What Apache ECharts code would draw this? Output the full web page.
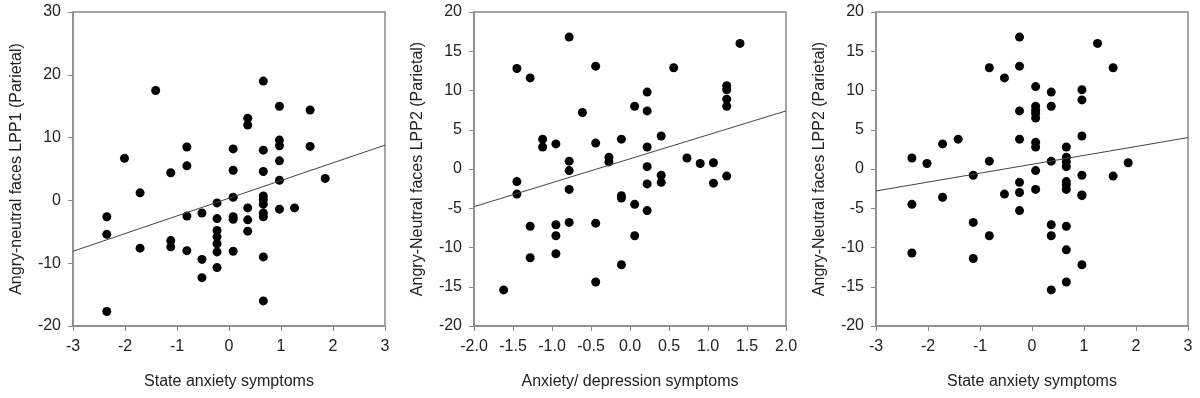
<!DOCTYPE html>
<html>
<head>
<meta charset="utf-8">
<script src="https://cdn.jsdelivr.net/npm/echarts@6/dist/echarts.min.js"></script>
<style>
  html, body { margin: 0; padding: 0; background: #fff; }
  #chart { width: 1200px; height: 398px; }
</style>
</head>
<body>
<div id="chart"></div>
<script>
// panel 1: state anxiety vs LPP1
var stateAnxX1 = [-2.01, -1.71, -1.41, -1.12, -0.81, -0.81, 0.08, 0.08, 0.08, 0.36, 0.36, 0.66, 0.66, 0.66, 0.66,
  0.97, 0.97, 0.97, 0.97, 0.97, 1.56, 1.56, 1.85, -0.23,
  -2.35, -2.35, -1.71, -2.35, -1.12, -1.12, -0.81, -0.81, -0.52, -0.52, -0.52,
  -0.23, -0.23, -0.23, -0.23, -0.23, -0.23, 0.08, 0.08, 0.08, 0.36, 0.36, 0.36,
  0.66, 0.66, 0.66, 0.66, 0.66, 0.66, 0.97, 1.26];
var lpp1Y = [6.7, 1.2, 17.5, 4.4, 8.5, 5.5, 8.2, 4.8, 0.5, 13.1, 12.0, 19.0, 8.0, 4.6, 0.7,
  15.0, 9.6, 8.7, 6.3, 3.2, 14.4, 8.6, 3.5, -0.4,
  -2.6, -5.4, -7.6, -17.7, -6.4, -7.4, -2.5, -8.0, -2.0, -9.4, -12.3,
  -2.9, -4.8, -5.8, -6.9, -8.2, -10.7, -2.6, -3.0, -8.1, -1.2, -3.1, -4.9,
  0.1, -0.6, -2.0, -2.6, -9.0, -16.0, -1.4, -1.2];
var fit1X = [-3, 3];
var fit1Y = [-8.1, 8.8];

// panel 2: anxiety/depression vs LPP2
var anxDepX = [-1.45, -1.28, -1.12, -1.12, -0.95, -0.78, -0.78, -0.78, -0.78, -0.61, -0.44, -0.44, -0.27, -0.27,
  -0.11, 0.06, 0.22, 0.22, 0.22, 0.22, 0.22, 0.40, 0.40, 0.40, 0.56, 0.73, 0.90, 1.07, 1.07,
  1.24, 1.24, 1.24, 1.24, 1.24, 1.41,
  -1.45, -1.45, -1.28, -1.28, -1.62, -0.95, -0.95, -0.95, -0.78, -0.44, -0.44,
  -0.11, -0.11, -0.11, 0.06, 0.06, 0.22];
var lpp2Y2 = [12.8, 11.6, 3.8, 2.8, 3.2, 16.8, 1.0, -0.2, -2.6, 7.2, 13.1, 3.3, 1.5, 0.9,
  3.8, 8.0, 9.8, 7.4, 2.8, 0.3, -1.9, 4.2, -0.8, -1.7, 12.9, 1.4, 0.7, 0.8, -1.8,
  10.6, 10.1, 8.9, 8.0, -0.9, 16.0,
  -1.6, -3.2, -7.3, -11.3, -15.4, -7.1, -8.5, -10.8, -6.8, -6.9, -14.4,
  -3.4, -3.7, -12.2, -4.5, -8.5, -5.3];
var fit2X = [-2, 2];
var fit2Y = [-4.8, 7.4];

// panel 3: state anxiety vs LPP2
var stateAnxX3 = [-2.31, -2.02, -1.72, -1.42, -1.72, -1.13, -0.82, -0.82, -0.53, -0.53,
  -0.24, -0.24, -0.24, -0.24, -0.24, -0.24, 0.07, 0.07, 0.07, 0.07, 0.07, 0.07, 0.07, 0.07, 0.07,
  0.37, 0.37, 0.37, 0.66, 0.66, 0.66, 0.66, 0.66, 0.66, 0.66,
  0.96, 0.96, 0.96, 0.96, 0.96, 1.26, 1.56, 1.56, 1.85,
  -2.31, -2.31, -1.13, -1.13, -0.82, -0.24, 0.37, 0.37, 0.37, 0.66, 0.66, 0.66, 0.96, 0.96];
var lpp2Y3 = [1.4, 0.7, 3.2, 3.8, -3.6, -0.8, 12.9, 1.0, 11.6, -3.2,
  16.8, 13.1, 7.4, 3.8, -1.7, -3.0, 10.5, 8.0, 7.5, 7.1, 6.5, 3.4, 2.8, -0.2, -2.6,
  9.8, 8.0, 1.0, 2.8, 1.5, 0.9, 0.3, -1.6, -2.0, -2.6,
  10.1, 8.8, 4.2, -0.8, -3.3, 16.0, 12.9, -0.9, 0.8,
  -4.5, -10.7, -6.8, -11.4, -8.5, -5.3, -7.1, -8.5, -15.4, -7.3, -10.3, -14.4, -3.4, -12.2];
var fit3X = [-3, 3];
var fit3Y = [-2.8, 4.0];

var xTitles = ['State anxiety symptoms', 'Anxiety/ depression symptoms', 'State anxiety symptoms'];
var yTitles = ['Angry-neutral faces LPP1 (Parietal)', 'Angry-Neutral faces LPP2 (Parietal)', 'Angry-Neutral faces LPP2 (Parietal)'];

function pairs(xs, ys) {
  var out = [];
  for (var i = 0; i < xs.length; i++) out.push([xs[i], ys[i]]);
  return out;
}

var FONT = '"Liberation Sans", Arial, sans-serif';
var axisGrey = '#8a8a8a';

var grids = [
  {left: 73, top: 12, width: 312, height: 314},
  {left: 474, top: 12, width: 312, height: 314},
  {left: 876, top: 12, width: 312, height: 314}
];
grids.forEach(function (g) {
  g.show = true;
  g.borderColor = axisGrey;
  g.borderWidth = 1.5;
  g.backgroundColor = 'transparent';
});

var xRanges = [[-3, 3, 1, 0], [-2, 2, 0.5, 1], [-3, 3, 1, 0]];
var yRanges = [[-20, 30, 10], [-20, 20, 5], [-20, 20, 5]];

var xAxes = [], yAxes = [];
for (var k = 0; k < 3; k++) {
  (function (k) {
    var dec = xRanges[k][3];
    xAxes.push({
      gridIndex: k, type: 'value',
      min: xRanges[k][0], max: xRanges[k][1], interval: xRanges[k][2],
      name: xTitles[k], nameLocation: 'middle', nameGap: 48,
      nameTextStyle: {fontFamily: FONT, fontSize: 16, color: '#222'},
      axisLine: {show: true, onZero: false, lineStyle: {color: axisGrey, width: 1.5}},
      axisTick: {show: true, length: 5, lineStyle: {color: axisGrey}},
      axisLabel: {fontFamily: FONT, fontSize: 16, color: '#222', margin: 13,
        formatter: function (v) { return v.toFixed(dec); }},
      splitLine: {show: false}
    });
    yAxes.push({
      gridIndex: k, type: 'value',
      min: yRanges[k][0], max: yRanges[k][1], interval: yRanges[k][2],
      name: yTitles[k], nameLocation: 'middle', nameGap: 48, nameRotate: 90,
      nameTextStyle: {fontFamily: FONT, fontSize: 16, color: '#222'},
      axisLine: {show: true, onZero: false, lineStyle: {color: axisGrey, width: 1.5}},
      axisTick: {show: true, length: 5, lineStyle: {color: axisGrey}},
      axisLabel: {fontFamily: FONT, fontSize: 16, color: '#222', margin: 12},
      splitLine: {show: false}
    });
  })(k);
}

var pts = [pairs(stateAnxX1, lpp1Y), pairs(anxDepX, lpp2Y2), pairs(stateAnxX3, lpp2Y3)];
var fits = [pairs(fit1X, fit1Y), pairs(fit2X, fit2Y), pairs(fit3X, fit3Y)];

var series = [];
for (var j = 0; j < 3; j++) {
  series.push({
    type: 'line', xAxisIndex: j, yAxisIndex: j, data: fits[j],
    showSymbol: false, silent: true,
    lineStyle: {color: '#444', width: 1}
  });
  series.push({
    type: 'scatter', xAxisIndex: j, yAxisIndex: j, data: pts[j],
    symbolSize: 9, itemStyle: {color: '#000', opacity: 1}
  });
}

var chart = echarts.init(document.getElementById('chart'));
chart.setOption({
  backgroundColor: '#fff',
  animation: false,
  grid: grids,
  xAxis: xAxes,
  yAxis: yAxes,
  series: series
});
</script>
</body>
</html>
